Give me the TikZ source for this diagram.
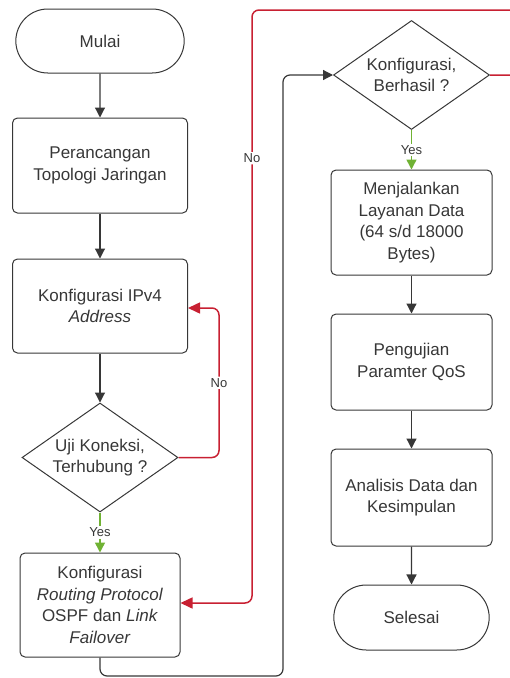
\documentclass[tikz,border=0pt]{standalone}
\usepackage{fontspec}
\setmainfont{Liberation Sans}
\usetikzlibrary{shapes.geometric,shapes.misc,arrows.meta}
\definecolor{inkgray}{RGB}{55,55,55}
\definecolor{noline}{RGB}{200,32,50}
\definecolor{yesline}{RGB}{112,178,52}
\tikzset{
    terminal/.style={draw=inkgray, line width=1pt, rounded rectangle, minimum width=162pt, minimum height=65pt, align=center},
    process/.style={draw=inkgray, line width=1pt, rounded corners=5pt, minimum width=161pt, align=center},
    decision/.style={draw=inkgray, line width=1pt, diamond, aspect=1.43, inner sep=0pt, minimum width=156pt, minimum height=109pt, align=center},
    flow/.style={draw=inkgray, line width=1.2pt, rounded corners=7pt, -{Triangle[length=10pt,width=10pt]}},
    yesflow/.style={draw=yesline, line width=1.5pt, -{Triangle[length=10pt,width=10pt]}},
    noflow/.style={draw=noline, line width=1.5pt, rounded corners=7pt, -{Triangle[length=12pt,width=11pt]}},
    branch/.style={fill=white, text=inkgray, font=\fontsize{13}{15}\selectfont, inner sep=1.5pt}
}
\begin{document}
\begin{tikzpicture}[x=1pt, y=-1pt, font=\fontsize{17}{21.5}\selectfont, text=inkgray]
        \useasboundingbox (0,0) rectangle (510,678);
        \clip (0,0) rectangle (510,678);
        % kolom kiri
        \node[terminal, minimum width=175pt, minimum height=64pt] at(100, 41) (mulai) {Mulai};
        \node[process, minimum width=175pt, minimum height=95pt] at(100, 165.5) (topologi) {Perancangan\\Topologi Jaringan};
        \node[process, minimum width=175pt, minimum height=94pt] at(100, 306) (ipv4) {Konfigurasi IPv4\\\textit{Address}};
        \node[decision] at(100, 457.5) (koneksi) {Uji Koneksi,\\Terhubung ?};
        \node[process, minimum width=160pt, minimum height=104pt] at(100, 605) (ospf) {Konfigurasi\\\textit{Routing Protocol}\\OSPF dan \textit{Link}\\\textit{Failover}};
        % kolom kanan
        \node[decision] at(411.5, 75) (berhasil) {Konfigurasi,\\Berhasil ?};
        \node[process, minimum height=105pt] at(411.5, 222.5) (layanan) {Menjalankan\\Layanan Data\\(64 s/d 18000\\Bytes)};
        \node[process, minimum height=96pt] at(411.5, 362) (qos) {Pengujian\\Paramter QoS};
        \node[process, minimum height=97pt] at(411.5, 497.5) (analisis) {Analisis Data dan\\Kesimpulan};
        \node[terminal] at(411.5, 617.5) (selesai) {Selesai};
        \coordinate (keluar) at(520, 75);
        \draw[flow] (mulai) -- (topologi);
        \draw[flow] (topologi) -- (ipv4);
        \draw[flow] (ipv4) -- (koneksi);
        \draw[yesflow] (koneksi) -- node[branch] {Yes} (ospf);
        \draw[noflow] (koneksi.east) -- (219, 457.5) -- node[branch] {No} (219, 308) -- (ipv4.east |- 0, 308);
        \draw[flow] (ospf.south) -- (100, 676) -- (283, 676) -- (283, 75) -- (berhasil.west);
        \draw[yesflow] (berhasil) -- node[branch] {Yes} (layanan);
        \draw[noflow] (berhasil.east) -- (keluar) -- (520, 10) -- (252, 10) -- node[branch, pos=0.25] {No} (252, 603) -- (ospf.east |- 0, 603);
        \draw[flow] (layanan) -- (qos);
        \draw[flow] (qos) -- (analisis);
        \draw[flow] (analisis) -- (selesai);
    \end{tikzpicture}
\end{document}
